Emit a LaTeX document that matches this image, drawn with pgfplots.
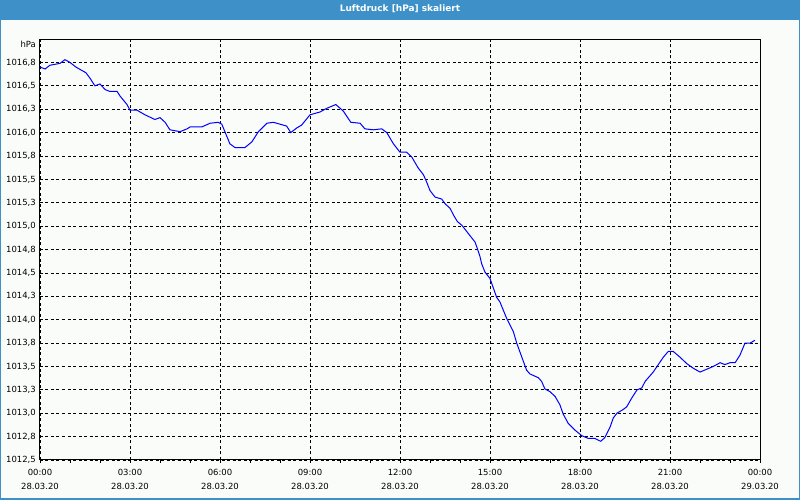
\documentclass[border=0pt]{standalone}
\usepackage{pgfplots}
\pgfplotsset{compat=1.18}
\usepackage{fontspec}
\setmainfont{DejaVu Sans}
\definecolor{titleblue}{RGB}{61,145,200}
\definecolor{bgcol}{RGB}{250,252,250}
\begin{document}
\begin{tikzpicture}[x=1bp,y=1bp]
\useasboundingbox (-40,-40) rectangle (760,460);
\fill[bgcol] (-40,-40) rectangle (760,460);
\fill[titleblue] (-40,440) rectangle (760,460);
\draw[titleblue, line width=1.5bp] (-39.25,440) -- (-39.25,-39.25) -- (759.25,-39.25) -- (759.25,440);
\node[text=white, font=\fontsize{9}{11}\selectfont\bfseries] at (360,451) {Luftdruck [hPa] skaliert};
\node[anchor=east, font=\fontsize{8.5}{10}\selectfont, inner sep=0pt] at (-4,415.5) {hPa};
\begin{axis}[
  at={(0,0)}, anchor=south west,
  scale only axis, width=720bp, height=420bp,
  xmin=0, xmax=24, ymin=1012.5, ymax=1016.99,
  xtick={0,3,6,9,12,15,18,21,24},
  minor xtick={1,2,4,5,7,8,10,11,13,14,16,17,19,20,22,23},
  xticklabels={{00:00\\28.03.20},{03:00\\28.03.20},{06:00\\28.03.20},{09:00\\28.03.20},{12:00\\28.03.20},{15:00\\28.03.20},{18:00\\28.03.20},{21:00\\28.03.20},{00:00\\29.03.20}},
  ytick={1012.5,1012.75,1013,1013.25,1013.5,1013.75,1014,1014.25,1014.5,1014.75,1015,1015.25,1015.5,1015.75,1016,1016.25,1016.5,1016.75},
  yticklabels={1012{,}5,1012{,}8,1013{,}0,1013{,}3,1013{,}5,1013{,}8,1014{,}0,1014{,}3,1014{,}5,1014{,}8,1015{,}0,1015{,}3,1015{,}5,1015{,}8,1016{,}0,1016{,}3,1016{,}5,1016{,}8},
  xtick pos=bottom, ytick pos=left,
  tick align=outside,
  major tick length=3bp, minor tick length=3bp,
  ytick style={draw=none},
  xtick style={black, line width=0.8bp},
  minor tick style={black, line width=0.8bp},
  grid=major,
  major grid style={black, line width=0.8bp, dash pattern=on 3bp off 2.5bp},
  axis line style={black, line width=1bp},
  xticklabel style={align=center, font=\fontsize{8.5}{14}\selectfont, text=black, inner sep=1pt, yshift=-5bp},
  yticklabel style={font=\fontsize{8.5}{10}\selectfont, text=black, inner sep=1pt},
]
\addplot[blue, line width=1bp, mark=none] coordinates {
(0.00,1016.70) (0.17,1016.68) (0.33,1016.72) (0.50,1016.73) (0.67,1016.74) (0.83,1016.78)
(1.00,1016.75) (1.20,1016.70) (1.53,1016.64) (1.67,1016.58) (1.83,1016.50) (2.00,1016.52)
(2.17,1016.46) (2.33,1016.44) (2.57,1016.44) (2.67,1016.39) (2.90,1016.30) (3.00,1016.24)
(3.23,1016.24) (3.50,1016.19) (3.83,1016.14) (4.00,1016.16) (4.17,1016.11) (4.33,1016.03)
(4.67,1016.01) (4.90,1016.04) (5.00,1016.06) (5.39,1016.06) (5.67,1016.10) (5.94,1016.11)
(6.06,1016.09) (6.33,1015.88) (6.50,1015.84) (6.83,1015.84) (7.06,1015.90) (7.28,1016.01)
(7.56,1016.10) (7.78,1016.11) (8.00,1016.09) (8.22,1016.07) (8.36,1016.00) (8.56,1016.05)
(8.72,1016.08) (9.00,1016.19) (9.11,1016.20) (9.33,1016.22) (9.56,1016.26) (9.86,1016.30)
(10.11,1016.23) (10.36,1016.11) (10.67,1016.10) (10.83,1016.04) (11.11,1016.03) (11.39,1016.04)
(11.56,1016.00) (11.78,1015.88) (12.00,1015.79) (12.22,1015.79) (12.39,1015.74) (12.61,1015.62)
(12.78,1015.55) (12.89,1015.47) (13.00,1015.38) (13.17,1015.31) (13.39,1015.29) (13.50,1015.24)
(13.67,1015.19) (13.78,1015.12) (13.91,1015.05) (14.06,1015.01) (14.28,1014.92) (14.50,1014.83)
(14.58,1014.76) (14.67,1014.67) (14.72,1014.60) (14.83,1014.51) (15.00,1014.44) (15.22,1014.24)
(15.33,1014.19) (15.56,1014.01) (15.78,1013.87) (15.89,1013.75) (16.06,1013.60) (16.22,1013.46)
(16.33,1013.42) (16.61,1013.38) (16.72,1013.34) (16.83,1013.26) (17.00,1013.23) (17.17,1013.18)
(17.33,1013.09) (17.44,1012.99) (17.61,1012.89) (17.83,1012.82) (18.06,1012.76) (18.28,1012.73)
(18.50,1012.73) (18.69,1012.70) (18.83,1012.74) (19.00,1012.85) (19.11,1012.95) (19.23,1013.00)
(19.44,1013.04) (19.56,1013.07) (19.72,1013.16) (19.90,1013.25) (20.06,1013.27) (20.17,1013.34)
(20.44,1013.44) (20.78,1013.60) (20.94,1013.66) (21.11,1013.66) (21.33,1013.60) (21.56,1013.53)
(21.78,1013.48) (22.00,1013.44) (22.22,1013.47) (22.44,1013.50) (22.67,1013.54) (22.83,1013.52)
(23.00,1013.54) (23.17,1013.54) (23.33,1013.62) (23.50,1013.75) (23.67,1013.75) (23.83,1013.78)
};
\end{axis}
\end{tikzpicture}
\end{document}
